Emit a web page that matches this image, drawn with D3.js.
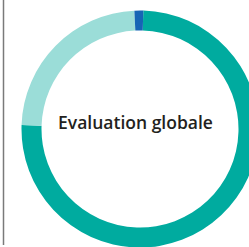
<!DOCTYPE html>
<html>
<head>
<meta charset="utf-8">
<script src="https://cdn.jsdelivr.net/npm/d3@7"></script>
<style>
  html, body { margin: 0; padding: 0; background: #fff; overflow: hidden; }
</style>
</head>
<body>
<div id="container"></div>
<script>
const w = 249,
  h = 247;

// data (share of answers, in %)
const categories = ['Positive', 'Neutre', 'Negative'];
const values = [75.1, 23.7, 1.2];
const colors = ['#00ab9f', '#9bddd8', '#1565b5'];
const centerLabel = 'Evaluation globale';

const cx = 140,
  cy = 129,
  outerR = 118.5,
  innerR = 98.5;
const offset = (1.6 * Math.PI) / 180;

const svg = d3.select('#container').append('svg').attr('width', w).attr('height', h);

// left separator rule
svg
  .append('line')
  .attr('x1', 3.5)
  .attr('x2', 3.5)
  .attr('y1', 0)
  .attr('y2', 245)
  .attr('stroke', '#7a7a7a')
  .attr('stroke-width', 1.5);

const pie = d3
  .pie()
  .sort(null)
  .startAngle(offset)
  .endAngle(offset + 2 * Math.PI);

const arc = d3.arc().innerRadius(innerR).outerRadius(outerR);

const g = svg.append('g').attr('transform', 'translate(' + cx + ', ' + cy + ')');

g.selectAll('path')
  .data(pie(values))
  .enter()
  .append('path')
  .attr('d', arc)
  .attr('fill', (d, i) => colors[i])
  .attr('data-cat', (d, i) => categories[i]);

svg
  .append('text')
  .text(centerLabel)
  .attr('x', 135.5)
  .attr('y', 128.5)
  .attr('text-anchor', 'middle')
  .attr('font-family', "'Open Sans', sans-serif")
  .attr('font-weight', 600)
  .attr('font-size', 17.5)
  .attr('fill', '#231f20');
</script>
</body>
</html>
